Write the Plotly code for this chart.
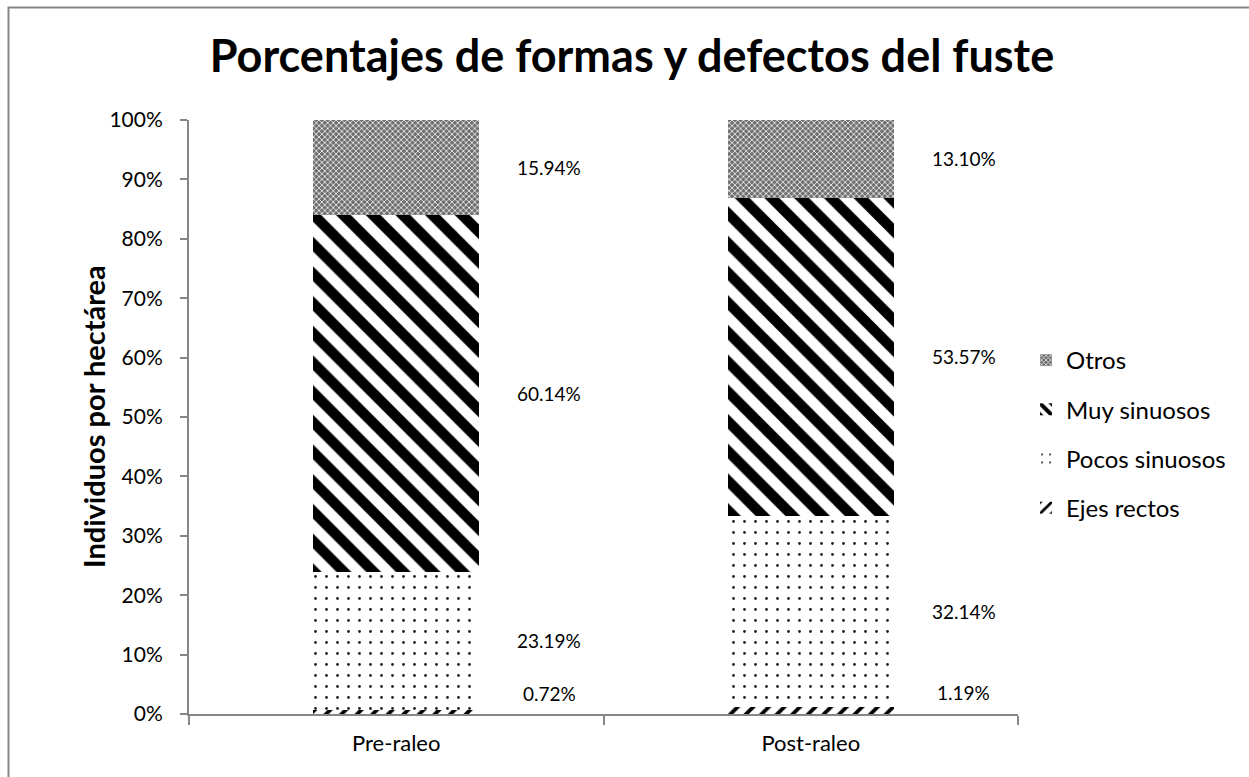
import plotly.graph_objects as go

categories = ["Pre-raleo", "Post-raleo"]
series_names = ["Ejes rectos", "Pocos sinuosos", "Muy sinuosos", "Otros"]
ejes_rectos = [0.72, 1.19]
pocos_sinuosos = [23.19, 32.14]
muy_sinuosos = [60.14, 53.57]
otros = [15.94, 13.10]
y_ticks = list(range(0, 101, 10))
y_tick_labels = [f"{t}%" for t in y_ticks]

series_values = [ejes_rectos, pocos_sinuosos, muy_sinuosos, otros]

patterns = [
    dict(shape="/", size=11, solidity=0.35, fgcolor="black", bgcolor="white", fillmode="replace"),
    dict(shape=".", size=11, solidity=0.05, fgcolor="#222222", bgcolor="white", fillmode="replace"),
    dict(shape="\\", size=21, solidity=0.5, fgcolor="black", bgcolor="white", fillmode="replace"),
    dict(shape="x", size=4, solidity=0.35, fgcolor="#ffffff", bgcolor="#6e6e6e", fillmode="replace"),
]

FONT = "Lato, 'Open Sans', sans-serif"

fig = go.Figure()
n = len(series_names)
for i, (name, vals) in enumerate(zip(series_names, series_values)):
    fig.add_trace(go.Bar(
        x=categories, y=vals, name=name,
        width=0.4,
        marker=dict(color="white", pattern=patterns[i], line=dict(width=0)),
        legendgroup=name,
        legendrank=n - i,  # top stack segment listed first
    ))

# value labels to the right of each bar segment
annotations = []
for ci, cat in enumerate(categories):
    base = 0.0
    for si, vals in enumerate(series_values):
        v = vals[ci]
        mid = base + v / 2
        annotations.append(dict(
            x=cat, y=mid, xref="x", yref="y",
            text=f"{v:.2f}%", showarrow=False,
            xshift=153, yshift=18 if v < 3 else 0,
            font=dict(family=FONT, size=19, color="black"),
        ))
        base += v

# y-axis title
annotations.append(dict(
    x=(93 - 189) / 829, y=0.5, xref="paper", yref="paper",
    text="<b>Individuos por hectárea</b>", textangle=-90, showarrow=False,
    xanchor="center", yanchor="middle",
    font=dict(family=FONT, size=29, color="black"),
))

fig.update_layout(
    width=1249, height=777,
    margin=dict(l=189, r=231, t=120, b=63),
    paper_bgcolor="white", plot_bgcolor="white",
    barmode="stack",
    title=dict(text="<b>Porcentajes de formas y defectos del fuste</b>",
               x=0.506, xanchor="center", y=0.927, yanchor="middle",
               font=dict(family=FONT, size=45, color="black")),
    font=dict(family=FONT, size=18, color="black"),
    showlegend=True,
    legend=dict(x=1.0097, y=0.633, xanchor="left", yanchor="top",
                traceorder="grouped", tracegroupgap=15,
                font=dict(family=FONT, size=24, color="black"),
                itemwidth=30, bgcolor="rgba(0,0,0,0)"),
    annotations=annotations,
    shapes=[dict(type="rect", xref="paper", yref="paper",
                 x0=(8.5 - 189) / 829, x1=1.3, y0=-0.2, y1=(714 - 7.5) / 594,
                 line=dict(color="#878787", width=2), layer="below")],
)
fig.update_xaxes(showline=True, linecolor="#868686", linewidth=2,
                 ticks="outside", tickson="boundaries", ticklen=9, tickcolor="#868686", tickwidth=2,
                 ticklabelstandoff=9,
                 showgrid=False, tickfont=dict(family=FONT, size=22, color="black"))
fig.update_yaxes(range=[0, 100], tickmode="array", tickvals=y_ticks, ticktext=y_tick_labels,
                 showline=True, linecolor="#868686", linewidth=2,
                 ticks="outside", ticklen=7, tickcolor="#868686", tickwidth=2,
                 ticklabelstandoff=13,
                 showgrid=False, zeroline=False,
                 tickfont=dict(family=FONT, size=21, color="black"))

fig.write_html("out.html")
